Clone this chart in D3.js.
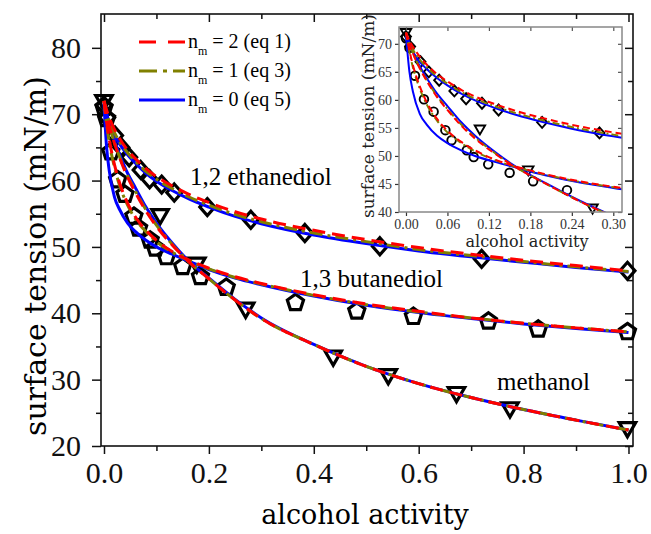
<!DOCTYPE html>
<html>
<head>
<meta charset="utf-8">
<script src="https://cdn.jsdelivr.net/npm/d3@7"></script>
<style>
  body { margin: 0; background: #fff; }
  svg { display: block; }
</style>
</head>
<body>
<svg id="chart" width="651" height="534"></svg>
<script>
'use strict';

/*=====  Data  ==========================*/
const ethanediolX = [0, 0.006, 0.021, 0.033, 0.048, 0.070, 0.087, 0.110, 0.134, 0.197, 0.280, 0.383, 0.526, 0.720, 0.998];
const ethanediolY = [71.3, 69.5, 66.8, 65.0, 63.5, 61.6, 60.2, 59.4, 58.2, 56.0, 54.1, 52.1, 50.1, 48.2, 46.4];

const butanediolX = [0, 0.005, 0.013, 0.026, 0.040, 0.057, 0.066, 0.088, 0.098, 0.119, 0.150, 0.184, 0.233, 0.365, 0.482, 0.590, 0.733, 0.828, 0.998];
const butanediolY = [71.0, 69.3, 64.3, 60.1, 57.9, 54.6, 52.8, 51.0, 49.8, 48.5, 47.0, 45.5, 43.9, 41.6, 40.3, 39.5, 38.8, 37.6, 37.2];

const methanolX = [0, 0.107, 0.177, 0.270, 0.437, 0.542, 0.672, 0.774, 0.998];
const methanolY = [72.1, 54.9, 47.6, 40.8, 33.6, 30.8, 28.1, 25.8, 22.8];

// fitted curves, sampled at fitX
const fitX = [0, 0.005, 0.01, 0.02, 0.03, 0.045, 0.06, 0.08, 0.1, 0.13, 0.16, 0.2, 0.25, 0.3, 0.4, 0.5, 0.6, 0.7, 0.8, 0.9, 1.0];

const ethEq1 = [72.0, 70.6, 69.5, 67.7, 66.3, 64.6, 63.3, 61.8, 60.6, 59.2, 58.0, 56.7, 55.3, 54.2, 52.5, 51.1, 49.9, 48.9, 48.0, 47.2, 46.4];
const ethEq3 = [72.0, 70.2, 69.0, 67.2, 65.8, 64.2, 62.9, 61.4, 60.2, 58.8, 57.6, 56.3, 54.9, 53.8, 52.1, 50.8, 49.6, 48.7, 47.8, 47.0, 46.3];
const ethEq5 = [71.8, 69.8, 68.6, 66.8, 65.5, 63.9, 62.6, 61.1, 59.9, 58.5, 57.3, 56.0, 54.6, 53.5, 51.8, 50.5, 49.4, 48.5, 47.7, 46.9, 46.2];

const butEq1 = [72.0, 68.8, 66.2, 62.4, 59.6, 56.6, 54.5, 52.5, 51.0, 49.3, 48.1, 46.8, 45.5, 44.5, 42.8, 41.4, 40.3, 39.3, 38.5, 37.8, 37.2];
const butEq3 = [72.0, 68.5, 65.8, 62.0, 59.2, 56.3, 54.2, 52.3, 50.8, 49.2, 48.0, 46.7, 45.4, 44.4, 42.7, 41.3, 40.2, 39.3, 38.5, 37.8, 37.2];
const butEq5 = [71.5, 65.0, 61.5, 57.5, 55.6, 53.6, 52.3, 51.0, 50.0, 48.9, 47.9, 46.6, 45.3, 44.3, 42.6, 41.2, 40.1, 39.2, 38.4, 37.7, 37.1];

const metEq1 = [72.0, 70.0, 68.3, 65.6, 63.4, 60.5, 58.2, 55.4, 53.1, 50.3, 47.9, 45.2, 42.0, 39.2, 35.3, 32.0, 29.4, 27.3, 25.5, 23.9, 22.4];
const metEq3 = [72.0, 70.1, 68.4, 65.7, 63.5, 60.7, 58.4, 55.6, 53.3, 50.4, 47.9, 45.2, 42.0, 39.2, 35.3, 32.0, 29.4, 27.3, 25.5, 23.9, 22.4];
const metEq5 = [71.8, 70.2, 68.6, 66.0, 63.9, 61.1, 58.9, 56.0, 53.6, 50.6, 48.0, 45.3, 42.1, 39.3, 35.3, 32.0, 29.4, 27.3, 25.5, 23.9, 22.4];

const xTicks = [0, 0.2, 0.4, 0.6, 0.8, 1.0];
const xMinor = [0.1, 0.3, 0.5, 0.7, 0.9];
const yTicks = [20, 30, 40, 50, 60, 70, 80];
const yMinor = [25, 35, 45, 55, 65, 75];
const insetXTicks = [0, 0.06, 0.12, 0.18, 0.24, 0.30];
const insetYTicks = [40, 45, 50, 55, 60, 65, 70];

const legendLabels = ['2 (eq 1)', '1 (eq 3)', '0 (eq 5)'];

/*=====  Setup  ======*/
const TEXT_FONT = '"Liberation Serif", "Times New Roman", serif';
const TITLE_FONT = '"DejaVu Serif", serif';

const svg = d3.select('#chart');

const plot = { left: 101, right: 633, top: 14, bottom: 446 };
const x = d3.scaleLinear().domain([-0.0057, 1.0086]).range([plot.left, plot.right]);
const y = d3.scaleLinear().domain([20, 85.1]).range([plot.bottom, plot.top]);

const ins = { left: 399, right: 622, top: 27, bottom: 212 };
const ix = d3.scaleLinear().domain([-0.0101, 0.3126]).range([ins.left, ins.right]);
const iy = d3.scaleLinear().domain([40, 73]).range([ins.bottom, ins.top]);

const zip = (xs, ys) => xs.map((v, i) => [v, ys[i]]);

const styles = [
    { color: '#ff0000', dash: '13,7',      dashInset: '7,4' },
    { color: '#808000', dash: '13,5,3,5',  dashInset: '7,3,2,3' },
    { color: '#0000ff', dash: null,        dashInset: null }
];

// marker shapes
function diamond(w, h) { return `M0,${-h}L${w},0L0,${h}L${-w},0Z`; }
function polygon(r, n, startAngle) {
    const p = d3.path();
    for (let k = 0; k < n; k++) {
        const a = startAngle + k * 2 * Math.PI / n;
        if (k === 0) p.moveTo(r * Math.cos(a), r * Math.sin(a));
        else p.lineTo(r * Math.cos(a), r * Math.sin(a));
    }
    p.closePath();
    return p.toString();
}
// screen y grows downwards: -PI/2 is a top vertex, +PI/2 a bottom vertex
const pentagon = r => polygon(r, 5, -Math.PI / 2);
const triDown = r => polygon(r, 3, Math.PI / 2);
function circle(r) {
    const p = d3.path();
    p.arc(0, 0, r, 0, 2 * Math.PI);
    return p.toString();
}

const defs = svg.append('defs');
defs.append('clipPath').attr('id', 'clipMain')
    .append('rect').attr('x', plot.left).attr('y', plot.top)
    .attr('width', plot.right - plot.left).attr('height', plot.bottom - plot.top);
defs.append('clipPath').attr('id', 'clipInset')
    .append('rect').attr('x', ins.left).attr('y', ins.top)
    .attr('width', ins.right - ins.left).attr('height', ins.bottom - ins.top);

/*=====  Main axes  ======*/
function styleAxis(g, size, color) {
    g.attr('font-family', TEXT_FONT).attr('font-size', size);
    g.selectAll('path.domain').remove();
    g.selectAll('line').attr('stroke', color).attr('stroke-width', 1.5);
    g.selectAll('text').attr('fill', color);
}

svg.append('g').attr('transform', `translate(0,${plot.bottom})`)
    .call(d3.axisBottom(x).tickValues(xTicks).tickSize(8).tickSizeOuter(0).tickPadding(8)
        .tickFormat(d3.format('.1f')))
    .call(g => styleAxis(g, 30, '#111'));
svg.append('g').attr('transform', `translate(0,${plot.bottom})`)
    .call(d3.axisBottom(x).tickValues(xMinor).tickSize(5).tickFormat(''))
    .call(g => styleAxis(g, 10, '#111'));

svg.append('g').attr('transform', `translate(${plot.left},0)`)
    .call(d3.axisLeft(y).tickValues(yTicks).tickSize(9).tickSizeOuter(0).tickPadding(11))
    .call(g => styleAxis(g, 30, '#111'));
svg.append('g').attr('transform', `translate(${plot.left},0)`)
    .call(d3.axisLeft(y).tickValues(yMinor).tickSize(5).tickFormat(''))
    .call(g => styleAxis(g, 10, '#111'));

// top and right: inward ticks
svg.append('g').attr('transform', `translate(0,${plot.top})`)
    .call(d3.axisTop(x).tickValues(xTicks).tickSize(-8).tickFormat(''))
    .call(g => styleAxis(g, 10, '#111'));
svg.append('g').attr('transform', `translate(0,${plot.top})`)
    .call(d3.axisTop(x).tickValues(xMinor).tickSize(-5).tickFormat(''))
    .call(g => styleAxis(g, 10, '#111'));
svg.append('g').attr('transform', `translate(${plot.right},0)`)
    .call(d3.axisRight(y).tickValues(yTicks).tickSize(-8).tickFormat(''))
    .call(g => styleAxis(g, 10, '#111'));
svg.append('g').attr('transform', `translate(${plot.right},0)`)
    .call(d3.axisRight(y).tickValues(yMinor).tickSize(-5).tickFormat(''))
    .call(g => styleAxis(g, 10, '#111'));

svg.append('rect')
    .attr('x', plot.left).attr('y', plot.top)
    .attr('width', plot.right - plot.left).attr('height', plot.bottom - plot.top)
    .attr('fill', 'none').attr('stroke', '#111').attr('stroke-width', 1.6);

// axis titles
svg.append('text')
    .attr('x', 365).attr('y', 524)
    .attr('text-anchor', 'middle')
    .attr('font-family', TITLE_FONT).attr('font-size', 27)
    .text('alcohol activity');
svg.append('text')
    .attr('transform', 'translate(46,256) rotate(-90)')
    .attr('text-anchor', 'middle')
    .attr('font-family', TITLE_FONT).attr('font-size', 30)
    .text('surface tension (mN/m)');

/*=====  Main markers and curves  ======*/
const mainMarkers = svg.append('g')
    .attr('fill', 'none').attr('stroke', '#000').attr('stroke-width', 3.2)
    .attr('stroke-linejoin', 'miter');

function drawMarkers(g, xs, ys, sx, sy, shape) {
    g.selectAll(null).data(zip(xs, ys)).enter().append('path')
        .attr('transform', d => `translate(${sx(d[0])},${sy(d[1])})`)
        .attr('d', shape);
}
drawMarkers(mainMarkers, ethanediolX, ethanediolY, x, y, diamond(7.5, 8.5));
drawMarkers(mainMarkers, butanediolX, butanediolY, x, y, pentagon(8.5));
drawMarkers(mainMarkers, methanolX, methanolY, x, y, triDown(9.5));

function drawCurves(parent, sx, sy, width, inset) {
    const line = d3.line().x(d => sx(d[0])).y(d => sy(d[1])).curve(d3.curveMonotoneX);
    const groups = [[ethEq1, ethEq3, ethEq5], [butEq1, butEq3, butEq5], [metEq1, metEq3, metEq5]];
    // blue underneath, then olive, red on top
    [2, 1, 0].forEach(k => {
        groups.forEach(set => {
            parent.append('path')
                .datum(zip(fitX, set[k]))
                .attr('d', line)
                .attr('fill', 'none')
                .attr('stroke', styles[k].color)
                .attr('stroke-width', width)
                .attr('stroke-dasharray', inset ? styles[k].dashInset : styles[k].dash);
        });
    });
}
drawCurves(svg.append('g').attr('clip-path', 'url(#clipMain)'), x, y, 3, false);

// curve labels
const labels = [
    { text: '1,2 ethanediol', x: 190, y: 185 },
    { text: '1,3 butanediol', x: 300, y: 287 },
    { text: 'methanol',       x: 497, y: 390 }
];
svg.selectAll('text.curveLabel').data(labels).enter().append('text')
    .attr('class', 'curveLabel')
    .attr('x', d => d.x).attr('y', d => d.y)
    .attr('font-family', TEXT_FONT).attr('font-size', 25)
    .text(d => d.text);

/*=====  Legend  ======*/
const legend = svg.append('g');
[42, 71, 100].forEach((ly, k) => {
    legend.append('line')
        .attr('x1', 139).attr('x2', 185).attr('y1', ly).attr('y2', ly)
        .attr('stroke', styles[k].color).attr('stroke-width', 3)
        .attr('stroke-dasharray', k === 0 ? '17,12' : (k === 1 ? '18,6,4,6' : null));
    const t = legend.append('text')
        .attr('x', 188).attr('y', ly + 6)
        .attr('font-family', TEXT_FONT).attr('font-size', 20);
    t.append('tspan').text('n');
    t.append('tspan').attr('dy', 7).attr('font-size', 12).text('m');
    t.append('tspan').attr('dy', -7).text(' = ' + legendLabels[k]);
});

/*=====  Inset  ======*/
const inset = svg.append('g');
inset.append('rect')
    .attr('x', ins.left).attr('y', ins.top)
    .attr('width', ins.right - ins.left).attr('height', ins.bottom - ins.top)
    .attr('fill', '#fff');

const insetMarkers = inset.append('g')
    .attr('fill', 'none').attr('stroke', '#000').attr('stroke-width', 1.9);
function insetSubset(xs, ys) {
    const idx = xs.map((v, i) => i).filter(i => xs[i] <= 0.31 && ys[i] >= 39.5);
    return [idx.map(i => xs[i]), idx.map(i => ys[i])];
}
drawMarkers(insetMarkers, ...insetSubset(ethanediolX, ethanediolY), ix, iy, diamond(5, 5.5));
drawMarkers(insetMarkers, ...insetSubset(butanediolX, butanediolY), ix, iy, circle(4.3));
drawMarkers(insetMarkers, ...insetSubset(methanolX, methanolY), ix, iy, triDown(6));

drawCurves(inset.append('g').attr('clip-path', 'url(#clipInset)'), ix, iy, 2, true);

const INSET_GRAY = '#555';
inset.append('g').attr('transform', `translate(0,${ins.bottom})`)
    .call(d3.axisBottom(ix).tickValues(insetXTicks).tickSize(4).tickSizeOuter(0).tickPadding(3)
        .tickFormat(d3.format('.2f')))
    .call(g => styleAxis(g, 14, '#333'));
inset.append('g').attr('transform', `translate(${ins.left},0)`)
    .call(d3.axisLeft(iy).tickValues(insetYTicks).tickSize(4).tickSizeOuter(0).tickPadding(3))
    .call(g => styleAxis(g, 14, '#333'));
inset.append('g').attr('transform', `translate(0,${ins.top})`)
    .call(d3.axisTop(ix).tickValues(insetXTicks).tickSize(-4).tickFormat(''))
    .call(g => styleAxis(g, 10, INSET_GRAY));
inset.append('g').attr('transform', `translate(${ins.right},0)`)
    .call(d3.axisRight(iy).tickValues(insetYTicks).tickSize(-4).tickFormat(''))
    .call(g => styleAxis(g, 10, INSET_GRAY));
inset.selectAll('line').attr('stroke-width', 1.2);

inset.append('rect')
    .attr('x', ins.left).attr('y', ins.top)
    .attr('width', ins.right - ins.left).attr('height', ins.bottom - ins.top)
    .attr('fill', 'none').attr('stroke', '#888').attr('stroke-width', 1.5);

inset.append('text')
    .attr('x', 527).attr('y', 247)
    .attr('text-anchor', 'middle')
    .attr('font-family', TITLE_FONT).attr('font-size', 16)
    .attr('fill', '#222')
    .text('alcohol activity');
inset.append('text')
    .attr('transform', 'translate(374,116) rotate(-90)')
    .attr('text-anchor', 'middle')
    .attr('font-family', TITLE_FONT).attr('font-size', 17)
    .attr('fill', '#222')
    .text('surface tension (mN/m)');
</script>
</body>
</html>
